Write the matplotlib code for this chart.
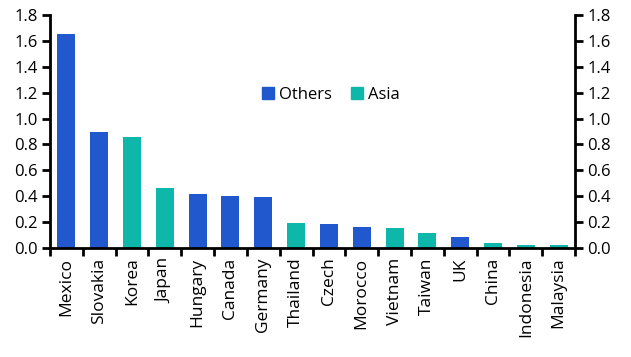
import matplotlib.pyplot as plt
from matplotlib.patches import Patch

plt.rcParams["font.family"] = ["Open Sans", "DejaVu Sans"]

countries = ["Mexico", "Slovakia", "Korea", "Japan", "Hungary", "Canada", "Germany",
             "Thailand", "Czech", "Morocco", "Vietnam", "Taiwan", "UK", "China",
             "Indonesia", "Malaysia"]
values = [1.65, 0.895, 0.86, 0.46, 0.415, 0.40, 0.395, 0.19, 0.185, 0.16, 0.155,
          0.115, 0.085, 0.038, 0.022, 0.022]
regions = ["Others", "Others", "Asia", "Asia", "Others", "Others", "Others", "Asia",
           "Others", "Others", "Asia", "Asia", "Others", "Asia", "Asia", "Asia"]
yticks = [0.0, 0.2, 0.4, 0.6, 0.8, 1.0, 1.2, 1.4, 1.6, 1.8]

BLUE = "#2158CE"
TEAL = "#0DB8AA"
colors = [BLUE if r == "Others" else TEAL for r in regions]

fig = plt.figure(figsize=(6.31, 3.57), dpi=100)
ax = fig.add_axes([50 / 631, 109 / 357, 525 / 631, 233 / 357])
x = list(range(len(countries)))
ax.bar(x, values, width=0.55, color=colors)

ax.set_xlim(-0.5, len(countries) - 0.5)
ax.set_ylim(0, 1.8)
ax.set_yticks(yticks)
ax.set_yticklabels([f"{t:.1f}" for t in yticks])
ax.set_xticks(x)
ax.set_xticklabels(countries, rotation=90)
# ticks sit between the categories
ax.set_xticks([i - 0.5 for i in range(len(countries) + 1)], minor=True)
ax.tick_params(axis="x", which="major", length=0, pad=7, labelsize=12.5)
ax.tick_params(axis="x", which="minor", length=6, width=2, direction="out")
ax.tick_params(axis="y", length=6, width=2, direction="out", labelsize=12,
               left=True, right=True, labelleft=True, labelright=True, pad=3)

ax.spines["top"].set_visible(False)
for side in ["left", "right", "bottom"]:
    ax.spines[side].set_linewidth(2)

handles = [Patch(color=BLUE, label="Others"), Patch(color=TEAL, label="Asia")]
ax.legend(handles=handles, loc="center", bbox_to_anchor=(0.535, 0.657), ncol=2,
          frameon=False, fontsize=12, handlelength=0.7, handleheight=0.7,
          handletextpad=0.3, columnspacing=1.2)

fig.savefig("out.png", dpi=100)
